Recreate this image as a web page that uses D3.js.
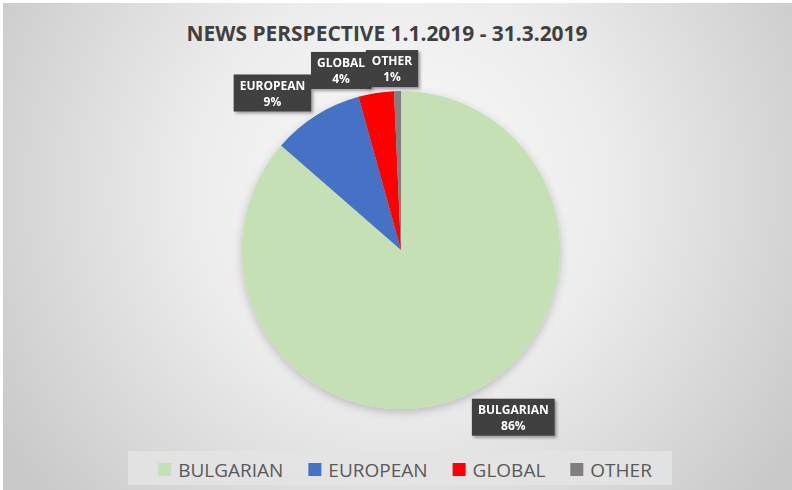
<!DOCTYPE html>
<html>
<head>
<meta charset="utf-8">
<script src="https://cdn.jsdelivr.net/npm/d3@7"></script>
<style>
  html, body { margin: 0; padding: 0; background: #ffffff; }
  svg { display: block; }
  text { font-family: "Open Sans", "DejaVu Sans", sans-serif; }
</style>
</head>
<body>
<div id="chart"></div>
<script>
// ---- data ----
const title = "NEWS PERSPECTIVE 1.1.2019 - 31.3.2019";
const categories = ["BULGARIAN", "EUROPEAN", "GLOBAL", "OTHER"];
const values = [86.4, 9.3, 3.6, 0.7];
const colors = ["#c5e0b4", "#4472c4", "#ff0000", "#7f7f7f"];

// ---- layout ----
const W = 792, H = 490;
const cx = 401, cy = 250, R = 159;

const svg = d3.select("#chart").append("svg")
  .attr("width", W).attr("height", H);

const defs = svg.append("defs");
const grad = defs.append("radialGradient").attr("id", "bg")
  .attr("gradientUnits", "userSpaceOnUse")
  .attr("cx", 400).attr("cy", 190).attr("r", 470);
grad.append("stop").attr("offset", "0%").attr("stop-color", "#fbfbfb");
grad.append("stop").attr("offset", "45%").attr("stop-color", "#ececec");
grad.append("stop").attr("offset", "100%").attr("stop-color", "#c9c9c9");

const pieShadow = defs.append("filter").attr("id", "pieShadow")
  .attr("x", "-20%").attr("y", "-20%").attr("width", "140%").attr("height", "140%");
pieShadow.append("feDropShadow").attr("dx", 0).attr("dy", 3)
  .attr("stdDeviation", 5).attr("flood-color", "#000").attr("flood-opacity", 0.22);

const boxShadow = defs.append("filter").attr("id", "boxShadow")
  .attr("x", "-20%").attr("y", "-20%").attr("width", "150%").attr("height", "150%");
boxShadow.append("feDropShadow").attr("dx", 2).attr("dy", 2)
  .attr("stdDeviation", 1.5).attr("flood-color", "#000").attr("flood-opacity", 0.35);

// background
svg.append("rect").attr("x", 3).attr("y", 3)
  .attr("width", W - 3).attr("height", H - 3)
  .attr("fill", "url(#bg)");

// title
svg.append("text")
  .attr("x", 387).attr("y", 41)
  .attr("text-anchor", "middle")
  .attr("font-size", 22).attr("font-weight", 700)
  .attr("fill", "#404040")
  .attr("textLength", 401).attr("lengthAdjust", "spacingAndGlyphs")
  .text(title);

// pie
const data = categories.map((c, i) => ({ name: c, value: values[i], color: colors[i] }));
const pie = d3.pie().value(d => d.value).sort(null).startAngle(0).endAngle(2 * Math.PI);
const arcs = pie(data);
const arc = d3.arc().innerRadius(0).outerRadius(R);
const total = d3.sum(values);

const g = svg.append("g").attr("transform", `translate(${cx},${cy})`);
g.append("g").attr("filter", "url(#pieShadow)")
  .selectAll("path").data(arcs).join("path")
  .attr("d", arc)
  .attr("fill", d => d.data.color);

// data labels (dark boxes, outside end)
const clamp = v => Math.max(-1, Math.min(1, v));
const boxH = 37, padX = 6, gapX = 5, gapY = 4;
const labels = g.append("g");
arcs.forEach(a => {
  const mid = (a.startAngle + a.endAngle) / 2;
  const s = Math.sin(mid), c = Math.cos(mid);
  const px = R * s, py = -R * c;
  const lg = labels.append("g").attr("filter", "url(#boxShadow)");
  const rect = lg.append("rect").attr("fill", "#404040");
  const t1 = lg.append("text").attr("text-anchor", "middle")
    .attr("font-size", 12).attr("font-weight", 700).attr("fill", "#ffffff")
    .text(a.data.name);
  const t2 = lg.append("text").attr("text-anchor", "middle")
    .attr("font-size", 12).attr("font-weight", 700).attr("fill", "#ffffff")
    .text(Math.round(a.data.value / total * 100) + "%");
  const tw = Math.max(t1.node().getComputedTextLength(), t2.node().getComputedTextLength());
  const bw = tw + 2 * padX;
  const kx = clamp(s * 8), ky = clamp(c * 8);
  const bcx = px + kx * (bw / 2 + gapX);
  const bcy = py - ky * (boxH / 2 + gapY);
  rect.attr("x", bcx - bw / 2).attr("y", bcy - boxH / 2)
    .attr("width", bw).attr("height", boxH);
  t1.attr("x", bcx).attr("y", bcy - boxH / 2 + 15);
  t2.attr("x", bcx).attr("y", bcy - boxH / 2 + 31);
});

// legend
const legY = 470;
svg.append("rect").attr("x", 128).attr("y", 451)
  .attr("width", 544).attr("height", 34)
  .attr("fill", "#e4e4e4").attr("opacity", 0.85);
const leg = svg.append("g");
const sq = 13, sqGap = 7, itemGap = 25;
let items = data.map(d => {
  const it = leg.append("g");
  it.append("rect").attr("width", sq).attr("height", sq)
    .attr("y", legY - 7).attr("fill", d.color);
  const t = it.append("text").attr("x", sq + sqGap).attr("y", legY + 7)
    .attr("font-size", 19).attr("fill", "#595959").text(d.name);
  return { it, w: sq + sqGap + t.node().getComputedTextLength() };
});
const totalW = d3.sum(items, d => d.w) + itemGap * (items.length - 1);
let x0 = 405 - totalW / 2;
items.forEach(d => {
  d.it.attr("transform", `translate(${x0},0)`);
  x0 += d.w + itemGap;
});
</script>
</body>
</html>
